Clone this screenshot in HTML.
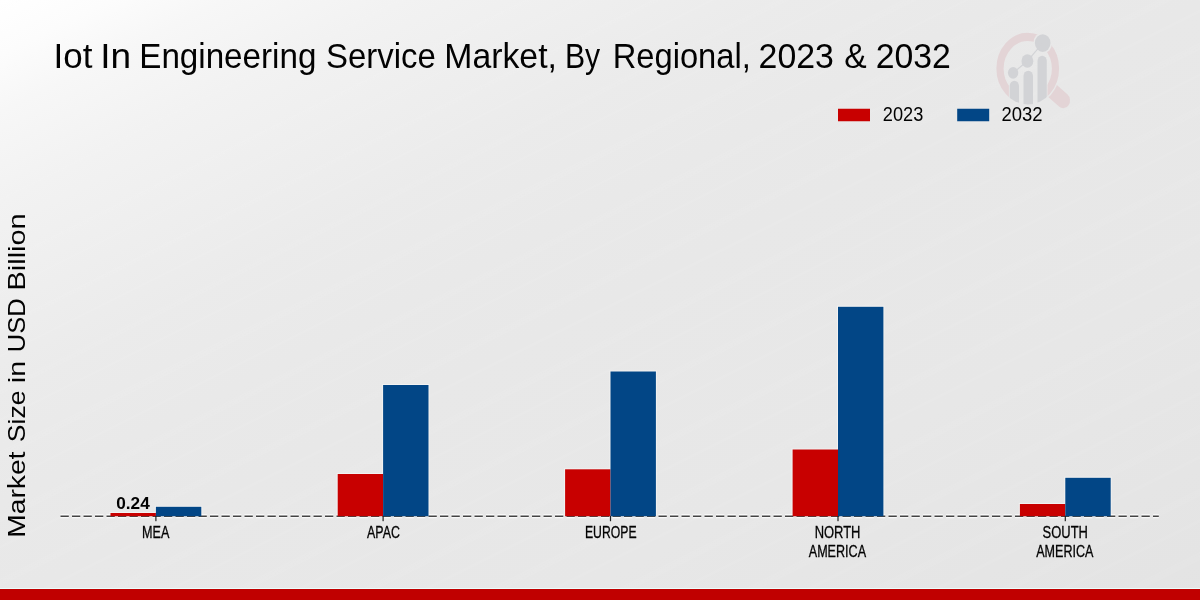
<!DOCTYPE html>
<html><head><meta charset="utf-8"><title>Iot In Engineering Service Market</title>
<style>
html,body{margin:0;padding:0;}
body{width:1200px;height:600px;overflow:hidden;background:#e8e8e8;font-family:"Liberation Sans",sans-serif;}
svg{display:block;font-family:"Liberation Sans",sans-serif;}
</style></head>
<body>
<svg width="1200" height="600" viewBox="0 0 1200 600">
<defs>
<linearGradient id="bg" gradientUnits="userSpaceOnUse" x1="0" y1="0" x2="491.9" y2="983.8">
<stop offset="0.0000" stop-color="#ffffff"/>
<stop offset="0.0455" stop-color="#fcfcfc"/>
<stop offset="0.0909" stop-color="#f7f7f7"/>
<stop offset="0.1636" stop-color="#f2f2f2"/>
<stop offset="0.2273" stop-color="#efefef"/>
<stop offset="0.3182" stop-color="#ebebeb"/>
<stop offset="0.4091" stop-color="#e9e9e9"/>
<stop offset="0.4909" stop-color="#e8e8e8"/>
<stop offset="0.7155" stop-color="#e7e7e7"/>
<stop offset="0.9427" stop-color="#e4e4e4"/>
<stop offset="1.0000" stop-color="#e3e3e3"/>
</linearGradient>
<linearGradient id="sg" x1="0" y1="0" x2="0" y2="1">
<stop offset="0" stop-color="#fff" stop-opacity="0"/><stop offset="0.5" stop-color="#fff" stop-opacity="1"/><stop offset="1" stop-color="#fff" stop-opacity="0"/>
</linearGradient>
<pattern id="st" width="20" height="57" patternUnits="userSpaceOnUse" patternTransform="rotate(-26.57)">
<rect y="2" width="20" height="12" fill="url(#sg)" opacity="0.05"/>
<rect y="30" width="20" height="7" fill="url(#sg)" opacity="0.035"/>
</pattern>
</defs>
<rect width="1200" height="600" fill="url(#bg)"/>
<rect width="1200" height="589" fill="url(#st)"/>
<g transform="translate(0,68.6) scale(1,1.14) translate(0,-68.6)">
<defs>
<mask id="rm" maskUnits="userSpaceOnUse" x="980" y="20" width="110" height="100">
<rect x="980" y="20" width="110" height="100" fill="#fff"/>
<circle cx="1042.7" cy="46.2" r="9.3" fill="#000"/>
<rect x="1008.9" y="80" width="38.6" height="30" fill="#000"/>
</mask>
<mask id="hm" maskUnits="userSpaceOnUse" x="980" y="20" width="110" height="100">
<rect x="980" y="20" width="110" height="100" fill="#fff"/>
<circle cx="1027.75" cy="68.6" r="32.7" fill="#000"/>
</mask>
<clipPath id="bc"><circle cx="1027.75" cy="68.6" r="31.45"/></clipPath>
</defs>
<circle cx="1027.75" cy="68.6" r="27.75" fill="none" stroke="#e3d4d6" stroke-width="7.2" mask="url(#rm)"/>
<g mask="url(#hm)"><line x1="1045" y1="82.4" x2="1063.2" y2="96.5" stroke="#e3d4d6" stroke-width="13.6" stroke-linecap="round"/></g>
<g fill="#d2d3d6" clip-path="url(#bc)">
<rect x="1009.7" y="79.3" width="9.3" height="40" rx="4.6"/>
<rect x="1023.5" y="70.4" width="9.5" height="50" rx="4.7"/>
<rect x="1037.5" y="57.3" width="9.3" height="60" rx="4.6"/>
</g>
<g fill="#d2d3d6" stroke="none">
<circle cx="1013.1" cy="72.3" r="5.2"/>
<circle cx="1027.4" cy="61.9" r="5.95"/>
<circle cx="1042.7" cy="46.2" r="7.8"/>
</g>
<polyline points="1013.1,72.3 1027.4,61.9 1042.7,46.2" fill="none" stroke="#d2d3d6" stroke-width="1.1"/>
</g>

<g fill="none" stroke="#f7f7f7" stroke-width="2" opacity="0.7"><rect x="110.5" y="513.0" width="45.4" height="1.7"/><rect x="155.9" y="506.8" width="45.4" height="7.9"/><rect x="337.7" y="474.0" width="45.4" height="40.7"/><rect x="383.1" y="385.0" width="45.4" height="129.7"/><rect x="565.1" y="469.3" width="45.4" height="45.4"/><rect x="610.5" y="371.5" width="45.4" height="143.2"/><rect x="792.6" y="449.5" width="45.4" height="65.2"/><rect x="838.0" y="306.8" width="45.4" height="207.9"/><rect x="1019.9" y="504.0" width="45.4" height="10.7"/><rect x="1065.3" y="477.8" width="45.4" height="36.9"/></g>
<line x1="60.5" y1="516.1" x2="1158.8" y2="516.1" stroke="#fff" stroke-width="4.2" stroke-dasharray="8.3 3.2" opacity="0.75"/>
<line x1="60.5" y1="516.2" x2="1158.8" y2="516.2" stroke="#444" stroke-width="1.6" stroke-dasharray="8.3 3.2"/>
<rect x="110.5" y="513.0" width="45.4" height="3.2" fill="#c80000"/><rect x="155.9" y="506.8" width="45.4" height="9.4" fill="#024686"/>
<rect x="337.7" y="474.0" width="45.4" height="42.2" fill="#c80000"/><rect x="383.1" y="385.0" width="45.4" height="131.2" fill="#024686"/>
<rect x="565.1" y="469.3" width="45.4" height="46.9" fill="#c80000"/><rect x="610.5" y="371.5" width="45.4" height="144.7" fill="#024686"/>
<rect x="792.6" y="449.5" width="45.4" height="66.7" fill="#c80000"/><rect x="838.0" y="306.8" width="45.4" height="209.4" fill="#024686"/>
<rect x="1019.9" y="504.0" width="45.4" height="12.2" fill="#c80000"/><rect x="1065.3" y="477.8" width="45.4" height="38.4" fill="#024686"/>

<rect x="155.3" y="516" width="1.2" height="5.2" fill="#222"/><rect x="382.5" y="516" width="1.2" height="5.2" fill="#222"/><rect x="609.9" y="516" width="1.2" height="5.2" fill="#222"/><rect x="837.4" y="516" width="1.2" height="5.2" fill="#222"/><rect x="1064.7" y="516" width="1.2" height="5.2" fill="#222"/>
<rect x="838" y="108.75" width="32" height="12.5" fill="#c80000"/><rect x="957.2" y="108.75" width="32" height="12.5" fill="#024686"/>
<g opacity="0.996">
<text transform="translate(53.50,68.45) scale(0.9727,1)" font-size="35.94" font-weight="normal" fill="#000">Iot</text>
<text transform="translate(100.25,68.45) scale(1.0307,1)" font-size="35.94" font-weight="normal" fill="#000">In</text>
<text transform="translate(139.25,68.45) scale(0.9236,1)" font-size="35.94" font-weight="normal" fill="#000">Engineering</text>
<text transform="translate(326.00,68.45) scale(0.9163,1)" font-size="35.94" font-weight="normal" fill="#000">Service</text>
<text transform="translate(444.25,68.45) scale(0.9405,1)" font-size="35.94" font-weight="normal" fill="#000">Market,</text>
<text transform="translate(565.00,68.45) scale(0.8387,1)" font-size="35.94" font-weight="normal" fill="#000">By</text>
<text transform="translate(612.65,68.45) scale(0.9100,1)" font-size="35.94" font-weight="normal" fill="#000">Regional,</text>
<text transform="translate(758.60,68.45) scale(0.9425,1)" font-size="35.94" font-weight="normal" fill="#000">2023</text>
<text transform="translate(844.15,68.45) scale(0.9349,1)" font-size="35.94" font-weight="normal" fill="#000">&amp;</text>
<text transform="translate(875.70,68.45) scale(0.9403,1)" font-size="35.94" font-weight="normal" fill="#000">2032</text>
<text transform="translate(882.75,121.00) scale(0.9012,1)" font-size="20.22" font-weight="normal" fill="#000">2023</text>
<text transform="translate(1001.45,121.00) scale(0.9135,1)" font-size="20.22" font-weight="normal" fill="#000">2032</text>
<text transform="translate(116.25,508.85) scale(1.0850,1)" font-size="15.86" font-weight="bold" fill="#000">0.24</text>
<text stroke="#000" stroke-width="0.3" transform="translate(142.10,538.00) scale(0.7650,1)" font-size="16.51" font-weight="normal" fill="#000">MEA</text>
<text stroke="#000" stroke-width="0.3" transform="translate(367.00,537.80) scale(0.7726,1)" font-size="16.08" font-weight="normal" fill="#000">APAC</text>
<text stroke="#000" stroke-width="0.3" transform="translate(584.95,537.80) scale(0.7605,1)" font-size="16.08" font-weight="normal" fill="#000">EUROPE</text>
<text stroke="#000" stroke-width="0.3" transform="translate(814.65,537.80) scale(0.8056,1)" font-size="16.08" font-weight="normal" fill="#000">NORTH</text>
<text stroke="#000" stroke-width="0.3" transform="translate(808.75,556.70) scale(0.7869,1)" font-size="16.00" font-weight="normal" fill="#000">AMERICA</text>
<text stroke="#000" stroke-width="0.3" transform="translate(1042.60,537.80) scale(0.8055,1)" font-size="16.08" font-weight="normal" fill="#000">SOUTH</text>
<text stroke="#000" stroke-width="0.3" transform="translate(1036.15,556.70) scale(0.7862,1)" font-size="16.00" font-weight="normal" fill="#000">AMERICA</text>
<text transform="translate(24.80,537.75) rotate(-90) scale(1.1545,1)" font-size="24.44" font-weight="normal" fill="#000">Market</text>
<text transform="translate(24.80,442.15) rotate(-90) scale(1.0862,1)" font-size="24.44" font-weight="normal" fill="#000">Size</text>
<text transform="translate(25.05,383.15) rotate(-90) scale(1.1746,1)" font-size="24.44" font-weight="normal" fill="#000">in</text>
<text transform="translate(24.80,352.15) rotate(-90) scale(1.0443,1)" font-size="24.44" font-weight="normal" fill="#000">USD</text>
<text transform="translate(24.80,290.50) rotate(-90) scale(1.1837,1)" font-size="24.44" font-weight="normal" fill="#000">Billion</text>
</g>
<rect x="0" y="588" width="1200" height="1" fill="#ebfdfd"/>
<rect x="0" y="589" width="1200" height="11" fill="#c00000"/>
</svg>
</body></html>
